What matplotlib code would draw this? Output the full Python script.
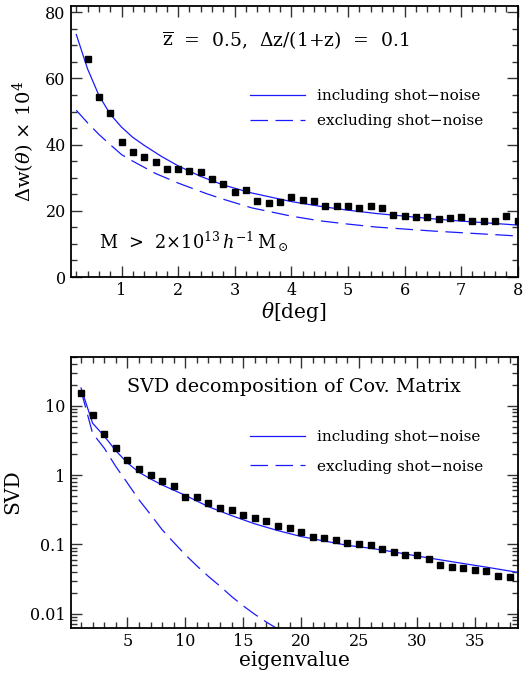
import numpy as np
import matplotlib
matplotlib.use('Agg')
import matplotlib.pyplot as plt
from matplotlib.ticker import MultipleLocator, LogLocator, FixedLocator, FixedFormatter, NullFormatter

plt.rcParams['font.family'] = ['DejaVu Serif']
plt.rcParams['mathtext.fontset'] = 'dejavuserif'

# top panel: Delta w(theta) x 10^4
theta_pts = [0.4, 0.6, 0.8, 1.0, 1.2, 1.4, 1.6, 1.8, 2.0, 2.2, 2.4, 2.6, 2.8, 3.0,
             3.2, 3.4, 3.6, 3.8, 4.0, 4.2, 4.4, 4.6, 4.8, 5.0, 5.2, 5.4, 5.6, 5.8,
             6.0, 6.2, 6.4, 6.6, 6.8, 7.0, 7.2, 7.4, 7.6, 7.8, 8.0]
dw_pts = [66.0, 54.5, 49.7, 40.9, 37.9, 36.2, 34.9, 32.5, 32.8, 31.9, 31.6, 29.5,
          28.1, 25.8, 26.4, 23.1, 22.3, 22.6, 24.3, 23.2, 23.1, 21.6, 21.6, 21.5,
          21.0, 21.6, 21.0, 18.6, 18.3, 18.0, 18.0, 17.4, 17.7, 18.0, 16.8, 17.0,
          17.0, 18.3, 16.8]

theta_inc = [0.2, 0.4, 0.6, 0.8, 1.0, 1.2, 1.4, 1.7, 2.0, 2.4, 2.8, 3.3, 4.0, 4.5,
             5.0, 5.5, 6.0, 6.5, 7.0, 7.5, 8.0]
dw_inc = [73.3, 62.9, 54.9, 49.2, 45.3, 42.2, 39.8, 36.5, 33.6, 30.4, 27.8, 25.4,
          22.8, 21.4, 20.2, 19.2, 18.4, 17.6, 16.9, 16.3, 15.7]

theta_exc = [0.2, 0.4, 0.6, 0.8, 1.0, 1.2, 1.6, 2.0, 2.5, 2.8, 3.3, 4.0, 4.5, 5.0,
             5.5, 6.0, 6.5, 7.0, 7.5, 8.0]
dw_exc = [50.4, 46.6, 43.1, 40.0, 37.0, 35.0, 31.3, 28.4, 25.2, 23.5, 20.9, 18.4,
          17.0, 16.0, 15.1, 14.5, 13.9, 13.4, 12.9, 12.4]

# bottom panel: SVD of covariance matrix
eig_pts = list(range(1, 39))
svd_pts = [15.2, 7.35, 3.90, 2.45, 1.64, 1.22, 1.00, 0.82, 0.70, 0.48, 0.48, 0.39,
           0.33, 0.31, 0.27, 0.24, 0.217, 0.184, 0.172, 0.150, 0.127, 0.123, 0.114,
           0.104, 0.101, 0.098, 0.0855, 0.0774, 0.070, 0.070, 0.0614, 0.0502,
           0.0470, 0.0455, 0.0426, 0.0411, 0.0348, 0.0337]

eig_inc = [1, 2, 3, 4, 5, 6, 7, 8, 10, 12, 14, 16, 18, 20, 22, 24, 26, 28, 30, 32,
           34, 36, 38.7]
svd_inc = [18.0, 5.6, 3.65, 2.25, 1.50, 1.10, 0.88, 0.72, 0.51, 0.35, 0.26, 0.198,
           0.158, 0.130, 0.112, 0.097, 0.088, 0.078, 0.068, 0.060, 0.053, 0.047,
           0.0395]

eig_exc = [1, 2, 3, 4, 5, 6, 7, 8, 9, 10, 11, 12, 13, 14, 15, 16, 17, 18]
svd_exc = [16.5, 4.0, 2.45, 1.33, 0.77, 0.44, 0.27, 0.163, 0.107, 0.071, 0.049,
           0.0345, 0.025, 0.0177, 0.0130, 0.0098, 0.0076, 0.0060]

blue = '#1a1aff'

fig = plt.figure(figsize=(5.23, 6.79), dpi=100)
ax1 = fig.add_axes([0.135, 0.592, 0.855, 0.3996])
ax2 = fig.add_axes([0.135, 0.0756, 0.855, 0.3991])


def style_axes(ax):
    for s in ax.spines.values():
        s.set_linewidth(1.3)
    ax.tick_params(which='both', direction='in', top=True, right=True,
                   labelsize=11.5, width=1.0, color='#333333')
    ax.tick_params(which='major', length=8)
    ax.tick_params(which='minor', length=4.5)


# top panel
ax1.plot(theta_inc, dw_inc, color=blue, lw=0.9, label='including shot\u2212noise')
ax1.plot(theta_exc, dw_exc, color=blue, lw=0.9, dashes=(14, 6),
         label='excluding shot\u2212noise')
ax1.plot(theta_pts, dw_pts, 's', color='black', ms=4.2, mec='black')
ax1.set_xlim(0.1, 8.0)
ax1.set_ylim(0, 82)
ax1.xaxis.set_major_locator(MultipleLocator(1))
ax1.xaxis.set_minor_locator(MultipleLocator(0.2))
ax1.yaxis.set_major_locator(MultipleLocator(20))
ax1.yaxis.set_minor_locator(MultipleLocator(5))
style_axes(ax1)
ax1.set_xlabel(r'$\theta$[deg]', fontsize=14.5, labelpad=1)
ax1.set_ylabel(r'$\Delta$w($\theta$) $\times$ 10$^4$', fontsize=14, labelpad=6)
ax1.text(0.481, 0.874, r'$\overline{\mathrm{z}}$  =  0.5,  $\Delta$z/(1+z)  =  0.1',
         transform=ax1.transAxes, ha='center', va='center', fontsize=13.5)
ax1.text(0.064, 0.13, r'M  >  2$\times$10$^{13}$$\,h^{-1}\,$M$_\odot$',
         transform=ax1.transAxes, ha='left', va='center', fontsize=12.8)
ax1.legend(loc='center left', bbox_to_anchor=(0.384, 0.62), frameon=False,
           fontsize=11, handlelength=3.6, handletextpad=0.8, labelspacing=0.7,
           borderpad=0)

# bottom panel
ax2.plot(eig_inc, svd_inc, color=blue, lw=0.9, label='including shot\u2212noise')
ax2.plot(eig_exc, svd_exc, color=blue, lw=0.9, dashes=(14, 6),
         label='excluding shot\u2212noise')
ax2.plot(eig_pts, svd_pts, 's', color='black', ms=4.2, mec='black')
ax2.set_yscale('log')
ax2.set_xlim(0.1, 38.7)
ax2.set_ylim(0.0063, 51)
ax2.xaxis.set_major_locator(MultipleLocator(5))
ax2.xaxis.set_minor_locator(MultipleLocator(1))
ax2.yaxis.set_major_locator(FixedLocator([0.01, 0.1, 1, 10]))
ax2.yaxis.set_major_formatter(FixedFormatter(['0.01', '0.1', '1', '10']))
ax2.yaxis.set_minor_locator(LogLocator(base=10, subs=np.arange(2, 10)))
ax2.yaxis.set_minor_formatter(NullFormatter())
style_axes(ax2)
ax2.set_xlabel('eigenvalue', fontsize=14.5, labelpad=1)
ax2.set_ylabel('SVD', fontsize=14.5, labelpad=6)
ax2.text(0.5, 0.889, 'SVD decomposition of Cov. Matrix',
         transform=ax2.transAxes, ha='center', va='center', fontsize=13.8)
ax2.legend(loc='center left', bbox_to_anchor=(0.384, 0.648), frameon=False,
           fontsize=11, handlelength=3.6, handletextpad=0.8, labelspacing=1.0,
           borderpad=0)

fig.savefig('out.png', dpi=100)
